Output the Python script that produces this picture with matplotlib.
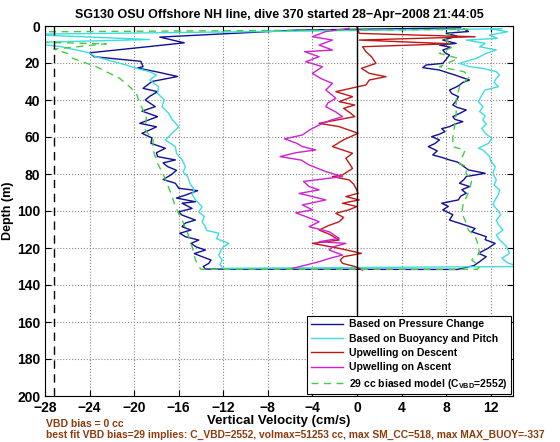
import numpy as np
import matplotlib.pyplot as plt

plt.rcParams['font.family'] = ['Liberation Sans', 'DejaVu Sans']
plt.rcParams['font.weight'] = 'bold'
plt.rcParams['mathtext.fontset'] = 'custom'
plt.rcParams['mathtext.rm'] = 'Liberation Sans:bold'
plt.rcParams['mathtext.bf'] = 'Liberation Sans:bold'

# ================= DATA (depth in m, vertical velocity in cm/s) =================
# Based on pressure change: descent, then ascent
press_down_depth = [1.0, 2.2, 6.0, 9.1, 14.5, 16.6, 19.1, 22.0, 22.7, 25.0, 27.3, 30.0, 33.7, 35.5, 38.0,
                    40.0, 43.6, 46.0, 49.0, 52.6, 54.5, 56.2, 58.0, 60.5, 63.4, 66.1, 68.5, 70.6, 72.4, 74.0,
                    76.0, 78.0, 80.5, 83.0, 85.0, 87.7, 89.0, 91.4, 93.0, 95.0, 95.8, 98.6, 100.5, 102.2, 104.9,
                    106.5, 108.5, 110.3, 112.0, 113.9, 115.7, 117.5, 119.5, 121.1, 123.0, 124.7, 126.5, 128.3,
                    130.0, 131.4]
press_down_w = [9.3, -5.3, -17.7, -15.5, -24.0, -23.6, -19.4, -19.2, -19.7, -17.8, -16.1, -18.4, -19.2, -17.9, -18.6,
                -19.0, -18.1, -19.3, -17.9, -19.5, -18.0, -18.6, -19.3, -18.4, -18.5, -17.2, -18.0, -17.9, -16.3, -17.4,
                -17.0, -16.2, -16.7, -17.4, -16.3, -16.0, -14.3, -15.4, -16.2, -14.5, -15.7, -14.8, -16.0, -15.7, -14.5,
                -15.4, -15.7, -14.9, -15.9, -15.4, -14.2, -14.9, -14.4, -13.6, -14.6, -13.9, -13.1, -13.3,
                -13.8, -13.6]
press_up_depth = [131.6, 129.5, 127.4, 124.7, 122.9, 120.0, 117.5, 115.5, 113.9, 111.2, 109.5, 107.6, 104.9, 102.0,
                  99.4, 97.5, 95.8, 94.0, 92.0, 90.4, 88.5, 86.8, 85.0, 83.0, 81.4, 79.6, 77.8, 75.1, 73.5, 72.4,
                  71.0, 69.7, 67.5, 65.2, 63.5, 61.6, 59.8, 58.5, 57.1, 55.5, 54.4, 53.0, 51.7, 50.5, 49.0, 47.0,
                  45.4, 44.0, 42.7, 40.5, 38.2, 36.5, 34.6, 33.0, 31.9, 30.5, 29.2, 28.0, 26.5, 25.0, 23.8, 22.5,
                  21.1, 20.2, 18.0, 15.7, 14.5, 13.0, 11.5, 10.3, 9.4, 7.6, 5.5, 3.9, 3.0, 1.5]
press_up_w = [9.0, 10.5, 11.0, 11.6, 10.9, 11.8, 12.4, 11.5, 11.6, 10.3, 10.6, 9.7, 8.3, 8.6,
              7.7, 8.2, 7.6, 9.1, 9.3, 9.8, 9.4, 10.1, 9.2, 9.6, 9.8, 11.5, 10.0, 9.4, 9.0, 8.3,
              7.6, 6.8, 7.2, 6.4, 7.0, 7.4, 6.7, 7.4, 7.9, 7.6, 8.3, 8.8, 9.5, 8.8, 8.6, 9.3,
              9.8, 9.0, 8.6, 8.9, 9.1, 8.5, 8.3, 8.9, 9.2, 9.5, 10.1, 9.5, 8.8, 8.0, 7.4, 5.9,
              6.2, 7.7, 8.0, 8.3, 7.9, 7.7, 8.4, 7.4, 8.9, 7.7, 9.0, 8.0, 10.0, 9.6]

# Based on buoyancy and pitch
buoy_down_depth = [1.5, 4.5, 7.3, 9.0, 11.0, 14.5, 16.5, 21.1, 22.9, 24.7, 26.5, 29.2, 32.8, 36.4, 40.0,
                   43.6, 47.2, 50.5, 54.5, 58.0, 61.6, 65.2, 68.8, 72.4, 76.0, 79.0, 81.4, 85.0, 88.6, 91.0,
                   94.0, 97.7, 100.5, 103.0, 106.0, 108.5, 110.5, 112.0, 115.0, 117.5, 119.5, 121.0, 124.0,
                   126.4, 129.0, 131.0]
buoy_down_w = [13.0, -30.0, -18.6, -30.0, -26.7, -24.0, -23.5, -20.7, -19.8, -18.6, -18.0, -18.6, -17.8, -17.9, -17.3,
               -17.5, -16.9, -16.6, -16.0, -16.6, -17.2, -16.3, -16.2, -15.7, -15.4, -15.6, -15.2, -15.0, -14.6, -14.8,
               -14.5, -13.9, -14.2, -13.7, -13.9, -13.6, -13.5, -12.4, -12.6, -11.5, -12.0, -12.2, -12.4,
               -12.1, -12.3, -12.0]
buoy_up_depth = [130.0, 128.0, 125.5, 122.9, 119.0, 115.6, 113.0, 110.3, 107.5, 104.9, 102.0, 99.4, 96.5, 94.0,
                 91.0, 88.6, 86.0, 83.2, 79.6, 76.0, 73.0, 70.6, 67.0, 66.1, 63.4, 60.7, 58.0, 55.3, 53.0, 50.8,
                 48.5, 46.3, 43.5, 40.9, 37.3, 34.6, 32.8, 30.5, 28.3, 26.5, 24.7, 22.9, 22.0, 20.2, 17.5, 14.8,
                 13.0, 11.2, 9.4, 7.6, 6.7, 4.9, 3.1, 1.5]
buoy_up_w = [14.5, 13.5, 13.0, 13.7, 13.4, 12.8, 12.5, 13.1, 12.7, 12.5, 12.9, 12.6, 12.2, 12.4,
             12.7, 12.8, 12.3, 12.5, 12.2, 12.4, 12.0, 11.9, 11.3, 10.9, 11.8, 12.1, 11.5, 11.2, 11.6, 11.3,
             11.5, 11.0, 11.3, 10.9, 11.2, 11.5, 12.7, 12.3, 12.5, 12.8, 12.5, 11.3, 10.1, 9.2, 10.7, 11.6,
             12.5, 11.0, 11.5, 9.8, 12.6, 11.9, 13.5, 12.0]

# Upwelling on descent
upw_down_depth = [0.5, 4.0, 5.8, 7.6, 9.6, 11.2, 13.9, 16.6, 20.2, 22.9, 25.6, 27.4, 29.2, 31.9, 32.8,
                  35.5, 38.2, 40.9, 42.7, 44.5, 47.0, 49.0, 52.6, 54.4, 58.0, 61.5, 65.2, 68.8, 71.5, 74.2,
                  77.0, 80.5, 81.4, 83.2, 85.5, 87.7, 90.4, 92.2, 94.0, 95.8, 97.6, 99.5, 101.2, 103.5, 105.8,
                  108.0, 110.3, 112.5, 115.7, 117.5, 120.2, 122.9, 124.7, 126.5, 128.3, 130.0, 131.9]
upw_down_w = [0.0, 0.2, 10.6, 0.2, 8.4, 0.5, 0.8, 1.3, 1.7, 0.4, 1.1, 2.6, 1.1, 0.8, 0.1,
              -1.9, -0.4, -1.6, -0.2, -1.2, -0.6, -0.2, -3.4, -1.6, 0.1, -1.2, -2.2, -0.4, -1.0, -0.7,
              -0.4, -1.3, -2.2, -0.7, -0.3, -0.1, 0.1, -1.0, 0.2, -1.3, 0.0, -0.8, -1.9, -1.2, -1.6,
              -2.6, -3.4, -2.5, -1.6, -4.0, -1.6, 0.4, -1.2, -1.5, -1.3, -0.2, 0.5]

# Upwelling on ascent
upw_up_depth = [1.3, 3.0, 5.8, 7.6, 10.3, 13.0, 13.9, 16.6, 19.3, 22.0, 25.6, 28.5, 31.0, 34.6, 37.0,
                39.1, 41.5, 43.6, 46.5, 49.0, 51.0, 53.5, 56.0, 58.9, 61.0, 63.4, 65.2, 67.0, 68.5, 70.6,
                72.5, 75.1, 78.7, 81.4, 84.0, 86.8, 88.6, 90.5, 92.2, 94.0, 96.7, 99.4, 101.0, 103.0, 105.8,
                108.5, 111.2, 114.8, 116.6, 117.5, 119.5, 121.1, 123.8, 125.5, 127.4, 130.0, 131.0]
upw_up_w = [-0.7, -2.8, -4.0, -2.2, -3.4, -2.2, -4.7, -3.4, -4.6, -3.1, -4.0, -3.2, -2.2, -2.8, -2.3,
            -1.9, -2.6, -2.8, -1.9, -1.3, -2.4, -3.4, -4.2, -4.9, -6.5, -5.4, -4.9, -3.7, -5.5, -6.9,
            -5.0, -4.3, -2.8, -1.3, -4.8, -4.3, -3.4, -5.2, -4.0, -2.8, -4.9, -4.0, -5.5, -4.6, -3.4,
            -4.3, -2.5, -1.6, -3.4, -1.0, -2.2, -2.5, -1.3, -2.4, -3.4, -5.1, -5.8]

# 29 cc biased model
model_down_depth = [1.8, 3.2, 8.6, 9.6, 12.5, 14.8, 17.5, 22.0, 28.3, 32.8, 36.4, 41.8, 49.0, 56.2, 61.6,
                    67.0, 74.2, 81.4, 90.4, 97.6, 104.9, 112.0, 119.2, 126.4, 130.0, 131.5]
model_down_w = [10.0, -30.0, -30.0, -22.5, -27.2, -26.0, -25.5, -23.4, -21.3, -20.4, -19.8, -19.5, -18.9, -19.0, -18.3,
                -18.3, -17.9, -17.3, -16.7, -16.3, -15.7, -15.2, -14.8, -14.5, -14.2, -14.0]
model_up_depth = [131.5, 130.0, 126.5, 122.9, 117.0, 113.6, 110.3, 105.0, 101.2, 97.0, 94.0, 88.6, 83.2, 80.0, 75.9,
                  74.4, 67.2, 65.2, 60.0, 52.7, 47.2, 40.0, 32.8, 27.4, 24.7, 22.0, 17.5, 14.8, 11.2, 5.8, 2.2]
model_up_w = [10.8, 11.0, 10.3, 11.0, 10.8, 10.6, 10.0, 9.7, 9.4, 9.5, 9.7, 10.1, 10.3, 9.8, 9.8,
              9.2, 9.7, 8.6, 8.6, 8.8, 8.9, 8.9, 9.2, 10.1, 9.6, 7.4, 9.1, 7.4, 8.6, 7.7, 9.2]

max_buoy_w = -27.2   # dashed limit line

labels = ["Based on Pressure Change", "Based on Buoyancy and Pitch", "Upwelling on Descent",
          "Upwelling on Ascent", r"29 cc biased model (C$_\mathbf{VBD}$=2552)"]
x_ticks = np.arange(-28, 13, 4)
y_ticks = np.arange(0, 201, 20)

# ================= PLOT =================
fig = plt.figure(figsize=(5.6, 4.42), dpi=100)
ax = fig.add_axes([45/560, 1 - 396/442, 468/560, 370/442])

ax.plot(press_down_w + press_up_w, press_down_depth + press_up_depth, color='#101098', lw=1.0, label=labels[0])
ax.plot(buoy_down_w + buoy_up_w, buoy_down_depth + buoy_up_depth, color='#3ddede', lw=1.0, label=labels[1])
ax.plot(upw_down_w, upw_down_depth, color='#c01818', lw=1.0, label=labels[2])
ax.plot(upw_up_w, upw_up_depth, color='#d020d0', lw=1.0, label=labels[3])
ax.plot(model_down_w + model_up_w, model_down_depth + model_up_depth, color='#44cc44', lw=1.0,
        linestyle=(0, (5, 4)), label=labels[4])

ax.axvline(0, color='black', lw=1.0)
ax.axvline(max_buoy_w, color='black', lw=1.0, linestyle=(0, (6, 4)))

ax.set_xlim(-28, 14)
ax.set_ylim(200, 0)
ax.set_xticks(x_ticks)
ax.set_yticks(y_ticks)
ax.grid(True, linestyle=':', color='#888888', lw=0.8)
ax.tick_params(direction='in', top=True, right=True, length=4, labelsize=10, width=0.8)
for s in ax.spines.values():
    s.set_linewidth(0.8)

ax.set_title("SG130 OSU Offshore NH line, dive 370 started 28\u2212Apr\u22122008 21:44:05",
             fontsize=9.0, fontweight='bold', pad=6)
ax.set_xlabel("Vertical Velocity (cm/s)", fontsize=9.5, fontweight='bold', labelpad=0)
ax.set_ylabel("Depth (m)", fontsize=9, fontweight='bold', labelpad=2)

leg = ax.legend(loc='lower right', fontsize=7.5, frameon=True, fancybox=False, framealpha=1,
                edgecolor='black', borderaxespad=0.15, handlelength=3.1, handletextpad=0.55,
                labelspacing=0.42, borderpad=0.35)
leg.get_frame().set_linewidth(0.8)

fig.text(46/560, 1 - 424/442, "VBD bias = 0 cc", color='#8c3b0c', fontsize=7.5,
         fontweight='bold', va='center')
fig.text(46/560, 1 - 435/442,
         "best fit VBD bias=29 implies: C_VBD=2552, volmax=51253 cc, max SM_CC=518, max MAX_BUOY=-337",
         color='#8c3b0c', fontsize=7.4, fontweight='bold', va='center')

plt.savefig("out.png", dpi=100)
plt.close()
